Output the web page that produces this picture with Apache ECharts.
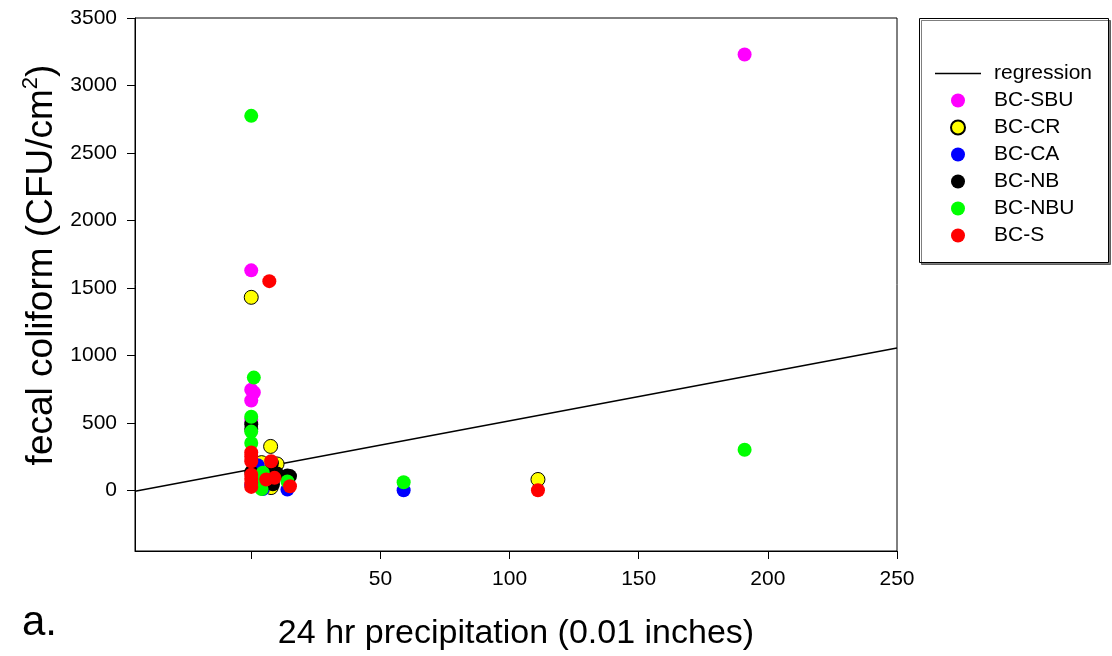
<!DOCTYPE html>
<html>
<head>
<meta charset="utf-8">
<script src="https://cdn.jsdelivr.net/npm/echarts@6/dist/echarts.min.js"></script>
<style>html,body{margin:0;padding:0;background:#fff}#c{width:1112px;height:656px}</style>
</head>
<body>
<div id="c"></div>
<script>
// tick labels
const xTickValues = [0, 50, 100, 150, 200, 250];
const xLabelValues = [50, 100, 150, 200, 250];
const yTickValues = [0, 500, 1000, 1500, 2000, 2500, 3000, 3500];

// regression line endpoints [precip, coliform]
const regression = [[-45, -7], [250, 1055]];

// series: [24 hr precipitation (0.01 in), fecal coliform (CFU/cm2)]
const bcSBU = [[191, 3230], [0, 1630], [0, 745], [1, 725], [0, 665], [0, 520]];
const bcCR = [[0, 1430], [7.5, 325], [4, 205], [10, 195], [8.5, 105], [7.7, 20], [111, 80]];
const bcCA = [[2.5, 185], [0, 40], [4.5, 10], [14, 5], [59, 0]];
const bcNB = [[0, 490], [0, 455], [0, 135], [8, 200], [8.4, 135], [10, 125], [15, 105], [14, 110], [8.4, 45]];
const bcNBU = [[0, 2775], [191, 300], [1, 835], [0, 545], [0, 435], [0, 350], [4.5, 130], [3.5, 75], [2, 40], [4, 10], [14, 65], [59, 60]];
const bcS = [[7, 1550], [0, 280], [0, 250], [0, 215], [0, 115], [0, 85], [0, 55], [0, 25], [7.7, 215], [5.8, 80], [9, 92], [15, 30], [111, 0]];

const names = ['BC-SBU', 'BC-CR', 'BC-CA', 'BC-NB', 'BC-NBU', 'BC-S'];
const colors = ['#ff00ff', '#ffff00', '#0000ff', '#000000', '#00ff00', '#ff0000'];
const datasets = [bcSBU, bcCR, bcCA, bcNB, bcNBU, bcS];

const font = 'Liberation Sans, Arial, sans-serif';
const chart = echarts.init(document.getElementById('c'), null, {renderer: 'canvas'});

const scatterSeries = names.map((n, i) => ({
  name: n,
  type: 'scatter',
  data: datasets[i],
  symbol: 'circle',
  symbolSize: 14,
  itemStyle: {
    color: colors[i],
    opacity: 1,
    borderColor: i === 1 ? '#000' : colors[i],
    borderWidth: i === 1 ? 1 : 0
  },
  emphasis: {disabled: true},
  z: 3
}));

chart.setOption({
  animation: false,
  backgroundColor: '#fff',
  grid: {left: 135, top: 18, right: 215, bottom: 105, show: true, borderColor: '#000', borderWidth: 1, backgroundColor: 'transparent'},
  xAxis: {
    type: 'value', min: -45, max: 250,
    name: '24 hr precipitation (0.01 inches)',
    nameLocation: 'middle', nameGap: 66,
    nameTextStyle: {fontFamily: font, fontSize: 34, color: '#000'},
    axisLine: {show: true, onZero: false, lineStyle: {color: '#000', width: 1}},
    axisTick: {show: true, length: 8, customValues: xTickValues, lineStyle: {color: '#000'}},
    axisLabel: {customValues: xLabelValues, formatter: v => String(v), fontFamily: font, fontSize: 21, color: '#000', margin: 18},
    splitLine: {show: false}
  },
  yAxis: {
    type: 'value', min: -450, max: 3500,
    axisLine: {show: true, onZero: false, lineStyle: {color: '#000', width: 1}},
    axisTick: {show: true, length: 8, customValues: yTickValues, lineStyle: {color: '#000'}},
    axisLabel: {customValues: yTickValues, formatter: v => String(v), fontFamily: font, fontSize: 21, color: '#000', margin: 18},
    splitLine: {show: false}
  },
  legend: {
    left: 935, top: 63, orient: 'vertical', padding: 0,
    itemWidth: 46, itemHeight: 14, itemGap: 6,
    textStyle: {fontFamily: font, fontSize: 21, color: '#000', lineHeight: 21, padding: [0, 0, 0, 8]},
    data: [{name: 'regression', icon: 'path://M0,0L46,0L46,1.5L0,1.5Z', itemStyle: {color: '#000'}}].concat(names.map(n => ({name: n, icon: 'circle'}))),
    selectedMode: false
  },
  graphic: [
    {type: 'rect', left: 919, top: 18, shape: {width: 189, height: 244}, style: {fill: '#fff', stroke: '#000', lineWidth: 1, shadowColor: 'rgba(0,0,0,0.5)', shadowOffsetX: 2, shadowOffsetY: 2, shadowBlur: 0}, z: -1},
    {type: 'text', x: 40, y: 265, rotation: Math.PI / 2,
      style: {text: '{a|fecal coliform (CFU/cm}{s|2}{a|)}', align: 'center', verticalAlign: 'middle',
        rich: {a: {fontFamily: font, fontSize: 37, color: '#000', lineHeight: 40, verticalAlign: 'bottom'},
               s: {fontFamily: font, fontSize: 22, color: '#000', lineHeight: 40, verticalAlign: 'top'}}}},
    {type: 'text', left: 22, top: 602, style: {text: 'a.', fontFamily: font, fontSize: 42, fill: '#000'}}
  ],
  series: [{
    name: 'regression', type: 'line', data: regression,
    symbol: 'none', showSymbol: false,
    lineStyle: {color: '#000', width: 1.5}, itemStyle: {color: '#000'},
    emphasis: {disabled: true}, z: 2
  }].concat(scatterSeries)
});
</script>
</body>
</html>
